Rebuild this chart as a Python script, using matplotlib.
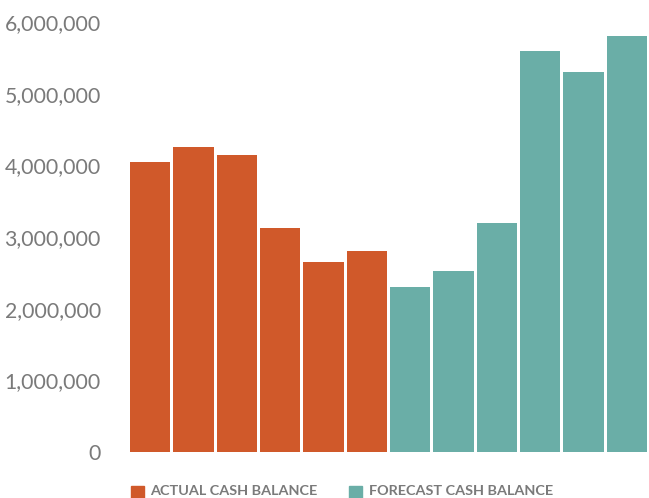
import matplotlib.pyplot as plt
from matplotlib.ticker import FuncFormatter
from matplotlib.patches import Rectangle

plt.rcParams['font.family'] = ['Lato', 'DejaVu Sans']

actual = [4050000, 4250000, 4150000, 3130000, 2650000, 2800000]
forecast = [2300000, 2520000, 3200000, 5600000, 5300000, 5800000]
y_ticks = [0, 1000000, 2000000, 3000000, 4000000, 5000000, 6000000]
legend_labels = ['ACTUAL CASH BALANCE', 'FORECAST CASH BALANCE']

orange = '#D0592A'
teal = '#6AAEA7'
grey = '#7A7A7A'

fig = plt.figure(figsize=(6.49, 4.98), dpi=100)
ax = fig.add_axes([130 / 649, 46 / 498, 1 - 130 / 649, 430 / 498])

n_a = len(actual)
x_a = range(n_a)
x_f = range(n_a, n_a + len(forecast))
ax.bar(x_a, actual, width=0.93, color=orange, align='edge')
ax.bar(x_f, forecast, width=0.93, color=teal, align='edge')

ax.set_xlim(0, n_a + len(forecast) - 0.02)
ax.set_ylim(0, 6000000)
ax.set_yticks(y_ticks)
ax.yaxis.set_major_formatter(FuncFormatter(lambda v, p: f'{int(v):,}'))
ax.tick_params(axis='y', length=0, pad=21, labelsize=15.3, labelcolor=grey)
ax.set_xticks([])
for s in ax.spines.values():
    s.set_visible(False)

# legend along the bottom edge
fig.patches.append(Rectangle((131 / 649, 0), 13 / 649, 12 / 498, color=orange,
                             transform=fig.transFigure))
fig.text(150 / 649, 1 / 498, legend_labels[0], color=grey, fontsize=10.4,
         fontweight='bold', va='bottom')
fig.patches.append(Rectangle((349 / 649, 0), 13 / 649, 12 / 498, color=teal,
                             transform=fig.transFigure))
fig.text(369 / 649, 1 / 498, legend_labels[1], color=grey, fontsize=10.4,
         fontweight='bold', va='bottom')

plt.savefig('out.png', dpi=100)
